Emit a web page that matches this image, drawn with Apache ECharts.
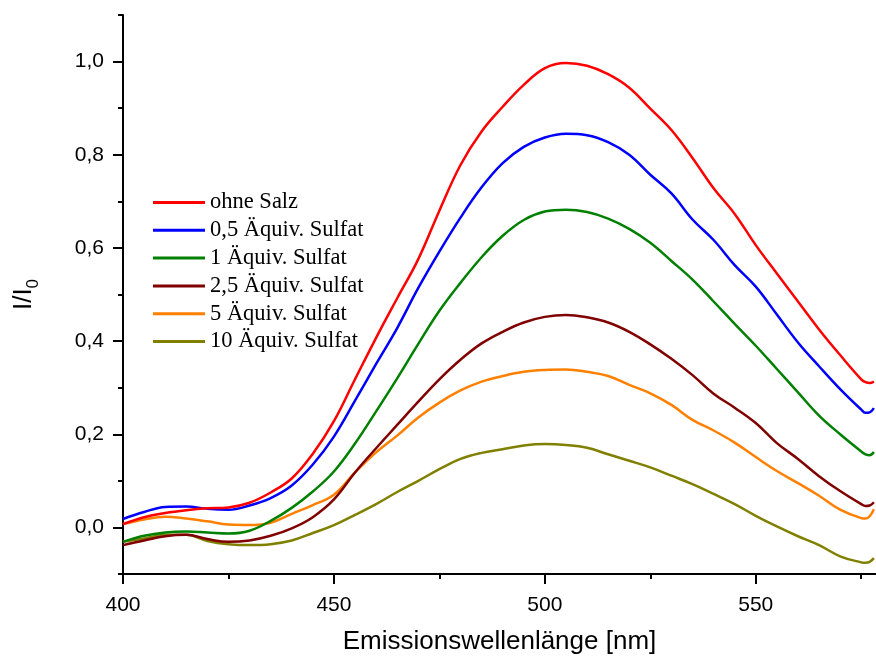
<!DOCTYPE html>
<html>
<head>
<meta charset="utf-8">
<script src="https://cdn.jsdelivr.net/npm/echarts@6/dist/echarts.min.js"></script>
<style>
  html, body { margin: 0; padding: 0; background: #fff; }
  #chart { width: 876px; height: 660px; }
</style>
</head>
<body>
<div id="chart"></div>
<script>
// Emission wavelength grid (nm)
const wavelengths = [400, 405, 410, 415, 420, 425, 430, 435, 440, 445, 450, 455, 460, 465, 470, 475, 480, 485, 490, 495,
  500, 505, 510, 515, 520, 525, 530, 535, 540, 545, 550, 555, 560, 565, 570, 575, 576, 577, 578];

// Normalised intensity I/I0 for each salt concentration
const ohneSalz = [0.007, 0.022, 0.031, 0.037, 0.041, 0.043, 0.053, 0.075, 0.105, 0.158, 0.228, 0.318, 0.407, 0.492, 0.576, 0.680, 0.778, 0.850, 0.903, 0.950,
  0.986, 0.997, 0.991, 0.973, 0.944, 0.899, 0.853, 0.793, 0.728, 0.673, 0.606, 0.545, 0.485, 0.425, 0.370, 0.318, 0.312, 0.310, 0.313];
const sulfat05 = [0.018, 0.033, 0.044, 0.045, 0.040, 0.038, 0.047, 0.063, 0.090, 0.135, 0.195, 0.272, 0.351, 0.428, 0.514, 0.592, 0.665, 0.730, 0.782, 0.817,
  0.837, 0.845, 0.842, 0.827, 0.800, 0.757, 0.717, 0.661, 0.617, 0.563, 0.517, 0.457, 0.397, 0.346, 0.297, 0.253, 0.246, 0.247, 0.256];
const sulfat1 = [-0.031, -0.018, -0.011, -0.009, -0.011, -0.013, -0.007, 0.014, 0.042, 0.077, 0.120, 0.180, 0.249, 0.320, 0.394, 0.465, 0.525, 0.580, 0.626, 0.660,
  0.678, 0.682, 0.677, 0.663, 0.641, 0.611, 0.572, 0.532, 0.485, 0.437, 0.390, 0.340, 0.290, 0.240, 0.200, 0.163, 0.157, 0.155, 0.162];
const sulfat25 = [-0.038, -0.028, -0.019, -0.016, -0.025, -0.031, -0.028, -0.018, -0.002, 0.022, 0.060, 0.118, 0.170, 0.220, 0.270, 0.318, 0.360, 0.395, 0.420, 0.440,
  0.452, 0.456, 0.451, 0.440, 0.420, 0.393, 0.362, 0.327, 0.287, 0.257, 0.224, 0.181, 0.147, 0.110, 0.078, 0.050, 0.046, 0.047, 0.054];
const sulfat5 = [0.007, 0.017, 0.023, 0.019, 0.013, 0.006, 0.005, 0.010, 0.029, 0.048, 0.070, 0.118, 0.161, 0.197, 0.236, 0.268, 0.294, 0.313, 0.325, 0.334,
  0.338, 0.339, 0.334, 0.325, 0.306, 0.288, 0.263, 0.231, 0.208, 0.182, 0.151, 0.121, 0.095, 0.068, 0.038, 0.020, 0.019, 0.024, 0.039];
const sulfat10 = [-0.031, -0.024, -0.016, -0.016, -0.029, -0.036, -0.038, -0.036, -0.028, -0.012, 0.005, 0.027, 0.050, 0.076, 0.100, 0.125, 0.147, 0.160, 0.168, 0.176,
  0.179, 0.177, 0.171, 0.157, 0.143, 0.129, 0.111, 0.093, 0.072, 0.050, 0.025, 0.002, -0.019, -0.038, -0.062, -0.075, -0.076, -0.074, -0.066];

const seriesNames = ['ohne Salz', '0,5 Äquiv. Sulfat', '1 Äquiv. Sulfat', '2,5 Äquiv. Sulfat', '5 Äquiv. Sulfat', '10 Äquiv. Sulfat'];
const seriesValues = [ohneSalz, sulfat05, sulfat1, sulfat25, sulfat5, sulfat10];
const seriesColors = ['#ff0000', '#0000ff', '#008000', '#800000', '#ff8000', '#808000'];

// Axis ticks
const xMajorTicks = [400, 450, 500, 550];
const xMinorTicks = [425, 475, 525, 575];
const yMajorTicks = [0, 0.2, 0.4, 0.6, 0.8, 1.0];
const yMinorTicks = [-0.1, 0.1, 0.3, 0.5, 0.7, 0.9, 1.1];

const X_MIN = 400, X_MAX = 578.5, Y_MIN = -0.1, Y_MAX = 1.1;
const axisColor = '#000';
const sansFont = '"Liberation Sans", Arial, sans-serif';
const serifFont = '"Liberation Serif", "Times New Roman", serif';

const fmtComma = v => v.toFixed(1).replace('.', ',');

const chart = echarts.init(document.getElementById('chart'), null, { renderer: 'canvas' });

const option = {
  backgroundColor: '#fff',
  animation: false,
  grid: { left: 123, top: 15, right: 0, bottom: 85, containLabel: false },
  legend: {
    orient: 'vertical',
    left: 148,
    top: 186,
    itemWidth: 52,
    itemHeight: 3,
    itemGap: 4.8,
    icon: 'rect',
    selectedMode: false,
    textStyle: { fontFamily: serifFont, fontSize: 22.5, color: '#000', lineHeight: 22 },
    data: seriesNames
  },
  xAxis: [
    {
      type: 'value', min: X_MIN, max: X_MAX,
      name: 'Emissionswellenlänge [nm]',
      nameLocation: 'middle', nameGap: 55,
      nameTextStyle: { fontFamily: sansFont, fontSize: 26, color: '#000' },
      axisLine: { show: true, onZero: false, lineStyle: { color: axisColor, width: 2 } },
      axisTick: { show: true, inside: false, length: 10, lineStyle: { color: axisColor, width: 2 }, customValues: xMajorTicks },
      axisLabel: { show: true, margin: 21, fontFamily: sansFont, fontSize: 21, color: '#000', customValues: xMajorTicks },
      splitLine: { show: false }
    },
    {
      type: 'value', min: X_MIN, max: X_MAX, position: 'bottom',
      axisLine: { show: false, onZero: false },
      axisTick: { show: true, inside: false, length: 5, lineStyle: { color: axisColor, width: 2 }, customValues: xMinorTicks },
      axisLabel: { show: false },
      splitLine: { show: false }
    }
  ],
  yAxis: [
    {
      type: 'value', min: Y_MIN, max: Y_MAX,
      name: '{a|I/I}{b|0}',
      nameLocation: 'middle', nameGap: 81,
      nameTextStyle: {
        color: '#000',
        rich: {
          a: { fontFamily: sansFont, fontSize: 26, lineHeight: 36, color: '#000' },
          b: { fontFamily: sansFont, fontSize: 17, lineHeight: 14, verticalAlign: 'bottom', color: '#000' }
        }
      },
      axisLine: { show: true, onZero: false, lineStyle: { color: axisColor, width: 2 } },
      axisTick: { show: true, inside: false, length: 10, lineStyle: { color: axisColor, width: 2 }, customValues: yMajorTicks },
      axisLabel: { show: true, margin: 19, fontFamily: sansFont, fontSize: 21, color: '#000', customValues: yMajorTicks, formatter: fmtComma },
      splitLine: { show: false }
    },
    {
      type: 'value', min: Y_MIN, max: Y_MAX, position: 'left',
      axisLine: { show: false, onZero: false },
      axisTick: { show: true, inside: false, length: 5, lineStyle: { color: axisColor, width: 2 }, customValues: yMinorTicks },
      axisLabel: { show: false },
      splitLine: { show: false }
    }
  ],
  series: seriesNames.map((name, i) => ({
    name,
    type: 'line',
    xAxisIndex: 0,
    yAxisIndex: 0,
    data: wavelengths.map((w, k) => [w, seriesValues[i][k]]),
    symbol: 'none',
    smooth: 0.4,
    clip: true,
    color: seriesColors[i],
    lineStyle: { color: seriesColors[i], width: 2.5 },
    z: 10 - i
  }))
};

chart.setOption(option);
</script>
</body>
</html>
